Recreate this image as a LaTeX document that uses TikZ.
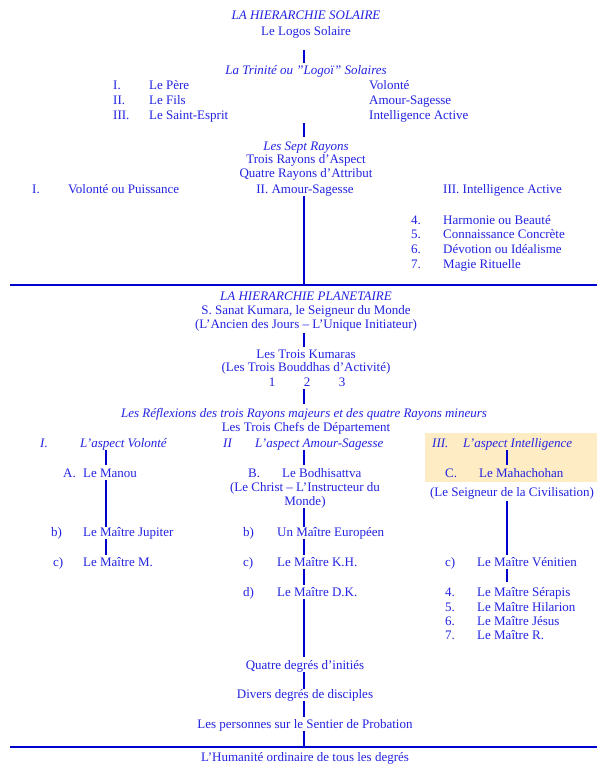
\documentclass[tikz,border=0pt]{standalone}
\usepackage{fontspec}
\setmainfont{Liberation Serif}
\usetikzlibrary{calc}
\definecolor{txtblue}{RGB}{35,35,225}
\definecolor{lineblue}{RGB}{0,0,205}
\definecolor{hlfill}{RGB}{253,236,196}
\begin{document}
\begin{tikzpicture}[x=1pt,y=-1pt,
  txt/.style={font=\fontsize{13}{14}\selectfont, text=txtblue, inner sep=0pt, text height=9pt, text depth=3pt},
  ital/.style={font=\fontsize{13}{14}\selectfont\itshape},
  lft/.style={txt, anchor=base west},
  ctr/.style={txt, anchor=base},
  conn/.style={draw=lineblue, line width=2.4pt},
  hline/.style={draw=lineblue, line width=2pt}]
\useasboundingbox (0,0) rectangle (597,765);
\fill[white] (0,0) rectangle (597,765);
\fill[hlfill] (425,433) rectangle (597,482);
\coordinate (axis) at (304,0);
\coordinate (axL) at (106,0);
\coordinate (axR) at (507,0);
% ---- Solar hierarchy
\node[ctr,ital] (sol) at (306,20) {LA HIERARCHIE SOLAIRE};
\node[ctr] (logos) at (306,36) {Le Logos Solaire};
\node[ctr,ital] (trin) at (306,75) {La Trinité ou "Logoï" Solaires};
\node[lft] (n1) at (113,90) {I.};
\node[lft] (pere) at (149,90) {Le Père};
\node[lft] (vol) at (369,90) {Volonté};
\node[lft] (n2) at (113,105) {II.};
\node[lft] (fils) at (149,105) {Le Fils};
\node[lft] (amour) at (369,105) {Amour-Sagesse};
\node[lft] (n3) at (113,120) {III.};
\node[lft] (esprit) at (149,120) {Le Saint-Esprit};
\node[lft] (intel) at (369,120) {Intelligence Active};
\node[ctr,ital] (sept) at (306,150) {Les Sept Rayons};
\node[ctr] (aspect) at (306,163) {Trois Rayons d'Aspect};
\node[ctr] (attr) at (306,177) {Quatre Rayons d'Attribut};
\node[lft] (ra) at (32,193) {I.};
\node[lft] (rb) at (68,193) {Volonté ou Puissance};
\node[ctr] (rc) at (305,193) {II. Amour-Sagesse};
\node[lft] (rd) at (443,193) {III. Intelligence Active};
\node[lft] (k4) at (411,224) {4.};
\node[lft] (h4) at (443,224) {Harmonie ou Beauté};
\node[lft] (k5) at (411,238) {5.};
\node[lft] (h5) at (443,238) {Connaissance Concrète};
\node[lft] (k6) at (411,253) {6.};
\node[lft] (h6) at (443,253) {Dévotion ou Idéalisme};
\node[lft] (k7) at (411,268) {7.};
\node[lft] (h7) at (443,268) {Magie Rituelle};
\coordinate (hlAw) at (10,285);
\coordinate (hlAe) at (597,285);
% ---- Planetary hierarchy
\node[ctr,ital] (plan) at (306,300) {LA HIERARCHIE PLANETAIRE};
\node[ctr] (sanat) at (306,314) {S. Sanat Kumara, le Seigneur du Monde};
\node[ctr] (ancien) at (306,328) {(L'Ancien des Jours – L'Unique Initiateur)};
\node[ctr] (kum) at (306,358) {Les Trois Kumaras};
\node[ctr] (boud) at (306,371) {(Les Trois Bouddhas d'Activité)};
\node[ctr] (u1) at (272,386) {1};
\node[ctr] (u2) at (307,386) {2};
\node[ctr] (u3) at (342,386) {3};
\node[ctr,ital] (refl) at (304,417) {Les Réflexions des trois Rayons majeurs et des quatre Rayons mineurs};
\node[ctr] (chefs) at (306,431) {Les Trois Chefs de Département};
% aspect row
\node[lft,ital] (aI) at (40,447) {I.};
\node[lft,ital] (aIt) at (80,447) {L'aspect Volonté};
\node[lft,ital] (aII) at (223,447) {II};
\node[lft,ital] (aIIt) at (255,447) {L'aspect Amour-Sagesse};
\node[lft,ital] (aIII) at (432,447) {III.};
\node[lft,ital] (aIIIt) at (463,447) {L'aspect Intelligence};
% A B C
\node[lft] (lA) at (63,477) {A.};
\node[lft] (manou) at (83,477) {Le Manou};
\node[lft] (lB) at (248,477) {B.};
\node[lft] (bodhi) at (282,477) {Le Bodhisattva};
\node[lft] (lC) at (445,477) {C.};
\node[lft] (maha) at (479,477) {Le Mahachohan};
\node[ctr] (christ) at (305,491) {(Le Christ – L'Instructeur du};
\node[ctr] (monde) at (305,505) {Monde)};
\node[ctr] (seign) at (512,496) {(Le Seigneur de la Civilisation)};
% b)
\node[lft] (lb1) at (51,536) {b)};
\node[lft] (jup) at (83,536) {Le Maître Jupiter};
\node[lft] (lb2) at (243,536) {b)};
\node[lft] (euro) at (277,536) {Un Maître Européen};
% c)
\node[lft] (lc1) at (53,566) {c)};
\node[lft] (mM) at (83,566) {Le Maître M.};
\node[lft] (lc2) at (243,566) {c)};
\node[lft] (kh) at (277,566) {Le Maître K.H.};
\node[lft] (lc3) at (445,566) {c)};
\node[lft] (ven) at (477,566) {Le Maître Vénitien};
% d) and 4-7
\node[lft] (ld2) at (243,596) {d)};
\node[lft] (dk) at (277,596) {Le Maître D.K.};
\node[lft] (m4) at (445,596) {4.};
\node[lft] (ser) at (477,596) {Le Maître Sérapis};
\node[lft] (m5) at (445,611) {5.};
\node[lft] (hil) at (477,611) {Le Maître Hilarion};
\node[lft] (m6) at (445,625) {6.};
\node[lft] (jes) at (477,625) {Le Maître Jésus};
\node[lft] (m7) at (445,639) {7.};
\node[lft] (mR) at (477,639) {Le Maître R.};
% lower centre
\node[ctr] (quatre) at (305,669) {Quatre degrés d'initiés};
\node[ctr] (divers) at (305,698) {Divers degrés de disciples};
\node[ctr] (pers) at (305,728) {Les personnes sur le Sentier de Probation};
\coordinate (hlBw) at (10,747);
\coordinate (hlBe) at (597,747);
\node[ctr] (hum) at (305,761) {L'Humanité ordinaire de tous les degrés};
% ---- connectors
\draw[hline] (hlAw) -- (hlAe);
\draw[hline] (hlBw) -- (hlBe);
\draw[conn, shorten <=11pt, shorten >=3pt] (logos.south -| axis) -- (trin.north -| axis);
\draw[conn, shorten >=4pt] (esprit.south -| axis) -- (sept.north -| axis);
\draw[conn] (rc.south -| axis) -- (hlAw -| axis);
\draw[conn, shorten <=2pt, shorten >=2pt] (ancien.south -| axis) -- (kum.north -| axis);
\draw[conn, shorten >=4pt] (u2.south -| axis) -- (refl.north -| axis);
\draw[conn, shorten >=3pt] (aIt.south -| axL) -- (manou.north -| axL);
\draw[conn, shorten >=3pt] (aIIt.south -| axis) -- (bodhi.north -| axis);
\draw[conn, shorten >=3pt] (aIIIt.south -| axR) -- (maha.north -| axR);
\draw[conn] (manou.south -| axL) -- (jup.north -| axL);
\draw[conn] (monde.south -| axis) -- (euro.north -| axis);
\draw[conn, shorten <=2pt, shorten >=2pt] (seign.south -| axR) -- (ven.north -| axR);
\draw[conn, shorten >=2pt] (jup.south -| axL) -- (mM.north -| axL);
\draw[conn, shorten >=2pt] (euro.south -| axis) -- (kh.north -| axis);
\draw[conn, shorten >=2pt] (kh.south -| axis) -- (dk.north -| axis);
\draw[conn, shorten >=5pt] (ven.south -| axR) -- (ser.north -| axR);
\draw[conn, shorten >=3pt] (dk.south -| axis) -- (quatre.north -| axis);
\draw[conn] (quatre.south -| axis) -- (divers.north -| axis);
\draw[conn, shorten >=2pt] (divers.south -| axis) -- (pers.north -| axis);
\draw[conn] (pers.south -| axis) -- (hlBw -| axis);
\end{tikzpicture}
\end{document}
